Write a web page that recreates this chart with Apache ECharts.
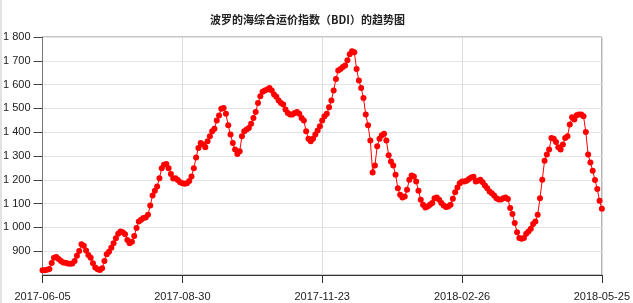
<!DOCTYPE html>
<html>
<head>
<meta charset="utf-8">
<script src="https://cdn.jsdelivr.net/npm/echarts@6/dist/echarts.min.js"></script>
<style>
html,body{margin:0;padding:0;background:#fff;}
#wrap{width:633px;height:303px;position:relative;}
#chart{width:633px;height:303px;}
#edgeL{position:absolute;left:0;top:0;width:2px;height:303px;background:#e2e2e2;}
</style>
</head>
<body>
<div id="wrap"><div id="chart"></div><div id="edgeL"></div></div>
<script>
// ---- data ----
const titleText = '波罗的海综合运价指数（BDI）的趋势图';
const startDate = '2017-06-05';
const endDate = '2018-05-25';
// days on which the index was not published (besides weekends)
const holidays = ['2017-08-28','2017-12-25','2017-12-26','2017-12-27','2017-12-28','2017-12-29','2018-01-01','2018-03-30','2018-04-02','2018-05-07'];
const bdi = [
 820,820,822,825,850,873,876,867,859,853,851,848,847,848,859,881,901,929,923,903,
 884,873,849,832,824,821,828,859,887,898,915,933,954,973,983,980,971,947,933,940,
 964,997,1025,1032,1039,1042,1053,1092,1134,1154,1172,1207,1249,1263,1266,1249,1224,1205,1207,1199,
 1190,1185,1183,1186,1195,1214,1249,1294,1334,1355,1348,1337,1362,1383,1404,1415,1449,1470,1499,1502,
 1477,1429,1390,1355,1327,1308,1320,1383,1404,1411,1418,1435,1460,1485,1523,1551,1570,1575,1579,1586,
 1575,1558,1549,1533,1523,1516,1495,1481,1474,1474,1481,1485,1477,1460,1449,1404,1373,1362,1373,1390,
 1407,1425,1449,1467,1477,1505,1533,1575,1624,1659,1666,1674,1680,1702,1727,1740,1736,1666,1617,1586,
 1544,1474,1429,1365,1231,1260,1341,1373,1387,1394,1365,1303,1277,1260,1221,1165,1137,1126,1130,1158,
 1200,1218,1214,1193,1154,1116,1095,1084,1088,1095,1102,1123,1126,1116,1102,1092,1086,1088,1095,1120,
 1148,1168,1186,1193,1193,1196,1203,1210,1213,1193,1196,1200,1190,1176,1165,1151,1143,1134,1123,1117,
 1117,1123,1126,1119,1081,1056,1018,980,955,952,955,973,983,994,1014,1025,1053,1123,1200,1280,
 1306,1327,1376,1373,1359,1337,1327,1348,1376,1383,1432,1463,1453,1471,1474,1474,1467,1401,1306,1273,
 1238,1199,1161,1112,1078
];
const yMin = 800, yMax = 1800, yStep = 100;

// build trading-day categories
function fmt(d){const m=d.getUTCMonth()+1, dd=d.getUTCDate();return d.getUTCFullYear()+'-'+(m<10?'0':'')+m+'-'+(dd<10?'0':'')+dd;}
const dates=[];
for(let d=new Date(startDate+'T00:00:00Z'); fmt(d)<=endDate; d=new Date(d.getTime()+86400000)){
  const w=d.getUTCDay(); const s=fmt(d);
  if(w===0||w===6||holidays.indexOf(s)>=0) continue;
  dates.push(s);
}
const labelStep = Math.round((dates.length-1)/4);

const FONT = '"Liberation Sans", Arial, "Noto Sans CJK SC", sans-serif';
const chart = echarts.init(document.getElementById('chart'), null, {renderer:'canvas'});
chart.setOption({
  animation:false,
  backgroundColor:'#fff',
  title:{text:titleText,left:205,top:9,textStyle:{fontSize:11,fontWeight:'bold',color:'#222',fontFamily:'"Noto Sans CJK SC", sans-serif'}},
  grid:{left:41,right:28,top:37,bottom:28,show:true,borderColor:'#8a8a8a',borderWidth:1,containLabel:false},
  xAxis:{
    type:'category',boundaryGap:false,data:dates,
    axisLine:{lineStyle:{color:'#333',width:1}},
    axisTick:{interval:labelStep-1,length:8,lineStyle:{color:'#333'}},
    axisLabel:{interval:labelStep-1,margin:16,fontSize:11,color:'#222',fontFamily:FONT,showMaxLabel:true},
    splitLine:{show:true,interval:labelStep-1,lineStyle:{color:'#dcdcdc',width:1}}
  },
  yAxis:{
    type:'value',min:yMin,max:yMax,interval:yStep,
    axisLine:{show:true,lineStyle:{color:'#777',width:1}},
    axisTick:{show:true,length:9,lineStyle:{color:'#444'}},
    axisLabel:{showMinLabel:false,margin:12,fontSize:11,color:'#222',fontFamily:FONT,
      formatter:v=>v>=1000?Math.floor(v/1000)+' '+String(v%1000).padStart(3,'0'):String(v)},
    splitLine:{show:true,lineStyle:{color:'#e4e4e4',width:1}}
  },
  series:[{
    type:'line',data:bdi,symbol:'circle',symbolSize:6,showAllSymbol:true,
    lineStyle:{color:'#ff0000',width:1},itemStyle:{color:'#ff0000'}
  }]
});
</script>
</body>
</html>
